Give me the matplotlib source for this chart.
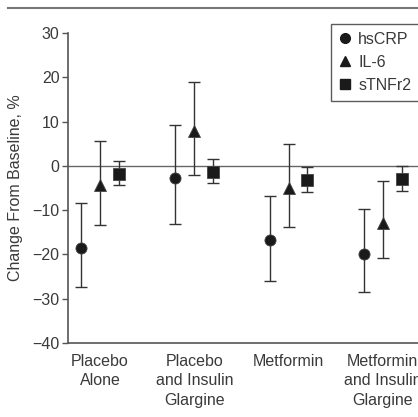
import matplotlib.pyplot as plt
from matplotlib.lines import Line2D

plt.rcParams['font.family'] = ['Liberation Sans', 'DejaVu Sans']

# groups on the x axis
groups = ["Placebo\nAlone", "Placebo\nand Insulin\nGlargine", "Metformin",
          "Metformin\nand Insulin\nGlargine"]

# % change from baseline: mean, lower and upper ends of the error bars
crp_mean = [-18.5, -2.7, -16.8, -19.9]
crp_low = [-27.3, -13.2, -25.9, -28.5]
crp_high = [-8.4, 9.2, -6.8, -9.7]

il6_mean = [-4.3, 7.8, -5.0, -13.0]
il6_low = [-13.3, -2.0, -13.8, -20.7]
il6_high = [5.7, 19.0, 5.0, -3.5]

tnf_mean = [-1.8, -1.4, -3.3, -3.0]
tnf_low = [-4.4, -3.9, -5.9, -5.6]
tnf_high = [1.1, 1.6, -0.2, 0.0]

series = [("hsCRP", "o", crp_mean, crp_low, crp_high, -0.2),
          ("IL-6", "^", il6_mean, il6_low, il6_high, 0.0),
          ("sTNFr2", "s", tnf_mean, tnf_low, tnf_high, 0.2)]

W, H = 418, 417
fig = plt.figure(figsize=(W / 100, H / 100), dpi=100)
ax = fig.add_axes([68 / W, 1 - 343 / H, (430 - 68) / W, (343 - 33) / H])

ink = "#1a1a1a"
gray = "#555555"
txt = "#3a3a3a"
fs = 11.5

for name, mk, mean, low, high, off in series:
    xs = [i + off for i in range(len(mean))]
    err = [[m - l for m, l in zip(mean, low)], [h - m for m, h in zip(mean, high)]]
    ax.errorbar(xs, mean, yerr=err, fmt="none", ecolor="#333333",
                elinewidth=1, capsize=4.5, capthick=1, zorder=2)
    ax.plot(xs, mean, linestyle="none", marker=mk, color=ink,
            markersize=9 if mk == "^" else 8, markeredgecolor="#444444",
            markeredgewidth=0.6, zorder=3)

ax.axhline(0, color="#666666", linewidth=1, zorder=1)

ax.set_xlim(-0.34, 3.5)
ax.set_ylim(-40, 30)
ax.set_yticks(range(-40, 31, 10))
ax.set_yticklabels(["\u221240", "\u221230", "\u221220", "\u221210", "0",
                    "10", "20", "30"])
ax.set_xticks(range(len(groups)))
ax.set_xticklabels(groups, linespacing=1.35, va="top")
ax.tick_params(axis="y", direction="out", length=4, width=1, color=gray,
               labelsize=fs, labelcolor=txt, pad=2)
ax.tick_params(axis="x", length=0, labelsize=fs, labelcolor=txt, pad=8)

for s in ["top", "right"]:
    ax.spines[s].set_visible(False)
for s in ["left", "bottom"]:
    ax.spines[s].set_color(gray)
    ax.spines[s].set_linewidth(1.2)

ax.set_ylabel("Change From Baseline, %", fontsize=fs, color=txt,
              labelpad=7)

handles = [Line2D([], [], linestyle="none", marker=mk, color=ink,
                  markersize=7 if mk != "s" else 6.5)
           for _, mk, *_ in series]
leg = fig.legend(handles, [s[0] for s in series], loc="upper left",
                 bbox_to_anchor=(331 / W, 1 - 24 / H), frameon=True,
                 fancybox=False, fontsize=fs, handlelength=0.7,
                 handletextpad=0.5, borderpad=0.5, labelspacing=0.5,
                 borderaxespad=0)
leg.get_frame().set_edgecolor("#333333")
leg.get_frame().set_linewidth(1)
for t in leg.get_texts():
    t.set_color(txt)

# rule across the top
fig.add_artist(Line2D([8 / W, 1], [1 - 8 / H, 1 - 8 / H], color="#777777",
                      linewidth=1.5))

fig.savefig("out.png", dpi=100)
